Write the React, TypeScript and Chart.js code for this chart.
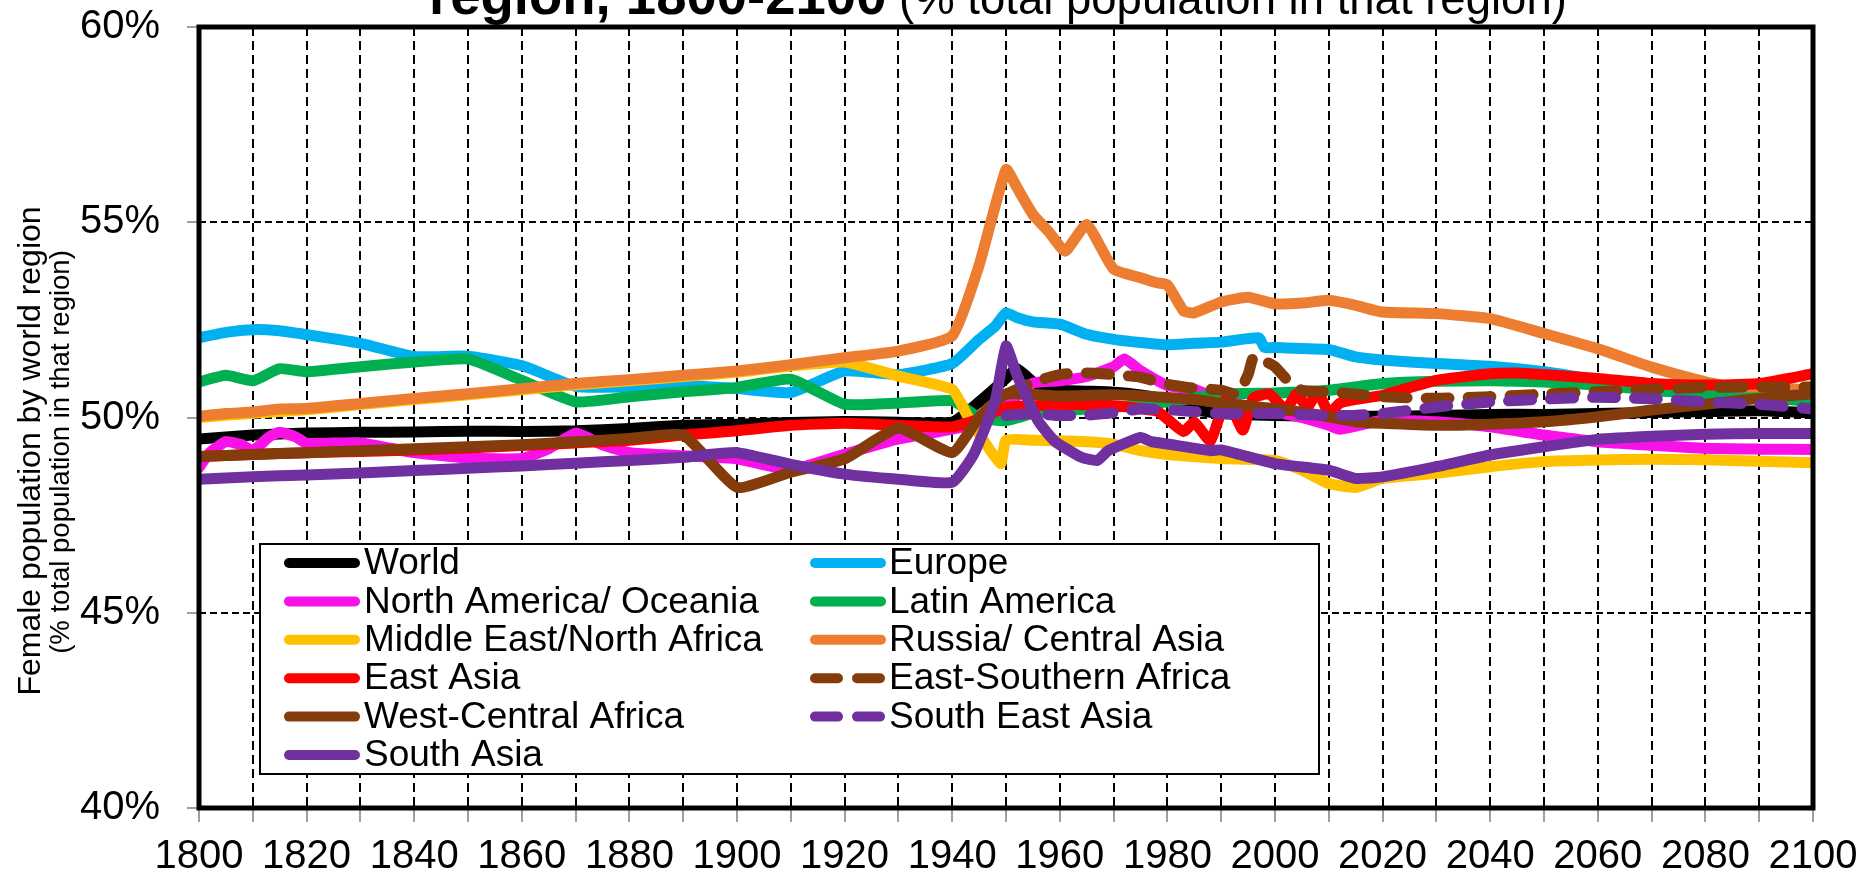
import React, { useEffect, useRef } from "react";
import { Chart, registerables } from "chart.js";

Chart.register(...registerables);

const FONT = "'Liberation Sans', Arial, Helvetica, sans-serif";

// ---------- data (female share of population, %) ----------
const seriesLabels = [
  "World",
  "Europe",
  "North America/ Oceania",
  "Latin America",
  "Middle East/North Africa",
  "Russia/ Central Asia",
  "East Asia",
  "East-Southern Africa",
  "West-Central Africa",
  "South East Asia",
  "South Asia",
];

const worldYears = [1800, 1810, 1820, 1830, 1840, 1850, 1860, 1870, 1880, 1890, 1900, 1910, 1920, 1930, 1940, 1945, 1950, 1952, 1956, 1960, 1970, 1975, 1980, 1985, 1990, 2000, 2010, 2020, 2030, 2040, 2050, 2060, 2070, 2080, 2090, 2100];
const worldValues = [49.45, 49.55, 49.6, 49.62, 49.63, 49.65, 49.64, 49.66, 49.72, 49.8, 49.83, 49.87, 49.9, 49.88, 49.88, 50.4, 51.0, 51.25, 50.8, 50.7, 50.65, 50.58, 50.45, 50.2, 50.1, 50.05, 50.03, 50.03, 50.05, 50.08, 50.08, 50.1, 50.13, 50.15, 50.17, 50.12];

const europeYears = [1800, 1805, 1810, 1815, 1820, 1830, 1840, 1850, 1860, 1870, 1880, 1890, 1900, 1910, 1920, 1930, 1940, 1945, 1948, 1950, 1952, 1955, 1960, 1965, 1970, 1975, 1980, 1985, 1990, 1997, 1998, 2000, 2010, 2015, 2020, 2030, 2040, 2050, 2060, 2070, 2080, 2090, 2100];
const europeValues = [52.04, 52.18, 52.25, 52.22, 52.12, 51.9, 51.56, 51.57, 51.33, 50.8, 50.78, 50.82, 50.74, 50.64, 51.19, 51.1, 51.38, 52.0, 52.34, 52.68, 52.56, 52.45, 52.39, 52.13, 52.0, 51.92, 51.86, 51.9, 51.93, 52.04, 51.8, 51.79, 51.74, 51.55, 51.47, 51.38, 51.31, 51.17, 50.95, 50.7, 50.6, 50.55, 50.5];

const northAmericaYears = [1800, 1802, 1805, 1808, 1810, 1813, 1815, 1818, 1820, 1830, 1840, 1850, 1860, 1865, 1870, 1875, 1880, 1890, 1900, 1910, 1920, 1930, 1940, 1945, 1950, 1955, 1960, 1965, 1970, 1972, 1975, 1980, 1985, 1990, 2000, 2005, 2010, 2012, 2015, 2020, 2030, 2040, 2050, 2060, 2070, 2080, 2090, 2100];
const northAmericaValues = [48.72, 49.1, 49.38, 49.3, 49.15, 49.5, 49.62, 49.5, 49.34, 49.35, 49.1, 48.96, 48.95, 49.2, 49.6, 49.3, 49.1, 49.02, 48.94, 48.66, 49.06, 49.45, 49.7, 49.87, 50.3, 50.88, 50.94, 51.05, 51.3, 51.5, 51.2, 50.82, 50.72, 50.45, 50.15, 50.0, 49.8, 49.7, 49.78, 49.93, 49.89, 49.76, 49.55, 49.38, 49.29, 49.21, 49.19, 49.18];

const latinAmericaYears = [1800, 1805, 1810, 1815, 1820, 1830, 1840, 1850, 1860, 1870, 1880, 1890, 1900, 1910, 1920, 1930, 1940, 1945, 1950, 1955, 1960, 1970, 1980, 1990, 2000, 2010, 2020, 2030, 2040, 2050, 2060, 2070, 2080, 2090, 2100];
const latinAmericaValues = [50.91, 51.08, 50.94, 51.25, 51.17, 51.3, 51.42, 51.5, 50.95, 50.4, 50.53, 50.66, 50.77, 50.98, 50.34, 50.37, 50.43, 50.0, 49.92, 50.1, 50.17, 50.26, 50.4, 50.6, 50.63, 50.7, 50.87, 50.93, 50.94, 50.91, 50.83, 50.7, 50.61, 50.53, 50.4];

const middleEastYears = [1800, 1810, 1820, 1830, 1840, 1850, 1860, 1870, 1880, 1890, 1900, 1910, 1920, 1930, 1940, 1943, 1949, 1950, 1955, 1960, 1965, 1970, 1975, 1980, 1990, 2000, 2005, 2010, 2015, 2020, 2030, 2040, 2050, 2060, 2070, 2080, 2090, 2100];
const middleEastValues = [50.0, 50.11, 50.2, 50.33, 50.46, 50.58, 50.71, 50.84, 50.94, 51.05, 51.16, 51.32, 51.42, 51.06, 50.72, 50.0, 48.82, 49.42, 49.42, 49.4, 49.38, 49.32, 49.15, 49.05, 48.95, 48.9, 48.65, 48.31, 48.21, 48.44, 48.57, 48.74, 48.87, 48.91, 48.93, 48.92, 48.88, 48.84];

const russiaYears = [1800, 1805, 1810, 1815, 1820, 1830, 1840, 1850, 1860, 1870, 1880, 1890, 1900, 1910, 1920, 1930, 1940, 1945, 1950, 1952, 1955, 1958, 1961, 1965, 1970, 1975, 1978, 1980, 1983, 1985, 1990, 1995, 2000, 2005, 2010, 2015, 2020, 2030, 2040, 2050, 2060, 2070, 2080, 2085, 2090, 2100];
const russiaValues = [50.03, 50.1, 50.14, 50.22, 50.23, 50.36, 50.49, 50.61, 50.74, 50.87, 50.97, 51.08, 51.19, 51.35, 51.53, 51.7, 52.09, 53.9, 56.35, 55.9, 55.2, 54.75, 54.26, 54.94, 53.8, 53.58, 53.45, 53.4, 52.73, 52.68, 52.96, 53.08, 52.91, 52.93, 53.0, 52.87, 52.7, 52.66, 52.53, 52.15, 51.76, 51.29, 50.91, 50.78, 50.78, 50.7];

const eastAsiaYears = [1800, 1810, 1820, 1830, 1840, 1850, 1860, 1870, 1880, 1890, 1900, 1910, 1920, 1930, 1940, 1945, 1950, 1955, 1960, 1970, 1978, 1980, 1983, 1985, 1988, 1991, 1994, 1996, 1999, 2002, 2004, 2006, 2008, 2010, 2012, 2014, 2020, 2030, 2040, 2045, 2050, 2060, 2070, 2080, 2090, 2100];
const eastAsiaValues = [49.0, 49.05, 49.1, 49.13, 49.17, 49.22, 49.28, 49.35, 49.42, 49.55, 49.66, 49.8, 49.85, 49.8, 49.76, 49.96, 50.26, 50.3, 50.34, 50.3, 50.17, 49.96, 49.64, 49.88, 49.4, 50.5, 49.68, 50.5, 50.6, 50.2, 50.6, 50.27, 50.66, 50.1, 50.36, 50.44, 50.57, 50.95, 51.12, 51.14, 51.1, 51.0, 50.87, 50.83, 50.87, 51.12];

const eastSouthernAfricaYears = [1950, 1955, 1960, 1965, 1970, 1975, 1980, 1985, 1990, 1993, 1995, 1996, 1998, 2000, 2002, 2005, 2010, 2020, 2030, 2040, 2050, 2060, 2070, 2080, 2090, 2100];
const eastSouthernAfricaValues = [50.6, 50.9, 51.1, 51.14, 51.1, 51.03, 50.85, 50.75, 50.7, 50.6, 51.1, 51.55, 51.45, 51.3, 51.0, 50.7, 50.66, 50.53, 50.49, 50.53, 50.6, 50.66, 50.72, 50.77, 50.78, 50.78];

const westCentralAfricaYears = [1800, 1810, 1820, 1830, 1840, 1850, 1860, 1870, 1880, 1890, 1900, 1910, 1920, 1930, 1940, 1945, 1950, 1960, 1970, 1980, 1987, 1990, 2000, 2010, 2015, 2020, 2030, 2040, 2050, 2060, 2070, 2080, 2090, 2100];
const westCentralAfricaValues = [49.0, 49.05, 49.1, 49.15, 49.2, 49.25, 49.3, 49.38, 49.46, 49.55, 48.21, 48.6, 48.94, 49.73, 49.1, 50.0, 50.6, 50.55, 50.58, 50.51, 50.43, 50.36, 50.23, 50.02, 49.89, 49.85, 49.8, 49.83, 49.89, 50.02, 50.19, 50.34, 50.49, 50.61];

const southEastAsiaYears = [1950, 1955, 1960, 1965, 1970, 1975, 1980, 1985, 1990, 2000, 2010, 2015, 2020, 2030, 2040, 2050, 2060, 2070, 2080, 2090, 2100];
const southEastAsiaValues = [50.05, 50.1, 50.05, 50.06, 50.12, 50.22, 50.2, 50.15, 50.1, 50.1, 50.05, 50.06, 50.1, 50.27, 50.4, 50.47, 50.52, 50.48, 50.4, 50.34, 50.22];

const southAsiaYears = [1800, 1810, 1820, 1830, 1840, 1850, 1860, 1870, 1880, 1890, 1900, 1910, 1920, 1930, 1940, 1944, 1948, 1950, 1952, 1956, 1959, 1964, 1967, 1969, 1975, 1977, 1980, 1988, 1990, 2000, 2010, 2015, 2020, 2030, 2040, 2050, 2060, 2070, 2080, 2090, 2100];
const southAsiaValues = [48.42, 48.48, 48.53, 48.58, 48.64, 48.7, 48.76, 48.83, 48.9, 48.98, 49.1, 48.8, 48.55, 48.42, 48.34, 49.06, 50.43, 51.83, 51.1, 49.91, 49.4, 48.98, 48.9, 49.15, 49.49, 49.38, 49.32, 49.15, 49.17, 48.82, 48.65, 48.44, 48.48, 48.74, 49.04, 49.25, 49.44, 49.52, 49.57, 49.59, 49.59];

const yTickValues = [40, 45, 50, 55, 60];

const titleBold = "region, 1800-2100";
const titleNormal = " (% total population in that region)";
const yTitleMain = "Female population by world region";
const yTitleSub = "(% total population in that region)";

// ---------- styles ----------
const seriesColors = ["#000000", "#00B0F0", "#F812E8", "#00B050", "#FFC000", "#ED7D31", "#FF0000", "#843C0C", "#843C0C", "#7030A0", "#7030A0"];
const dashedSeries = [false, false, false, false, false, false, false, true, false, true, false];

const seriesYears = [worldYears, europeYears, northAmericaYears, latinAmericaYears, middleEastYears, russiaYears, eastAsiaYears, eastSouthernAfricaYears, westCentralAfricaYears, southEastAsiaYears, southAsiaYears];
const seriesValues = [worldValues, europeValues, northAmericaValues, latinAmericaValues, middleEastValues, russiaValues, eastAsiaValues, eastSouthernAfricaValues, westCentralAfricaValues, southEastAsiaValues, southAsiaValues];

const DASH = [23, 19];

const decorPlugin = {
  id: "decor",
  afterDraw(chart: any) {
    const ctx: CanvasRenderingContext2D = chart.ctx;
    const a = chart.chartArea;
    ctx.save();
    // frame
    ctx.lineWidth = 5;
    ctx.strokeStyle = "#000";
    ctx.setLineDash([]);
    ctx.strokeRect(a.left, a.top, a.right - a.left, a.bottom - a.top);

    // legend
    const lx = 260, ly = 544, lw = 1059, lh = 230;
    ctx.fillStyle = "#fff";
    ctx.fillRect(lx, ly, lw, lh);
    ctx.lineWidth = 2;
    ctx.strokeRect(lx, ly, lw, lh);
    const ds = chart.data.datasets;
    ctx.font = `37px ${FONT}`;
    ctx.textBaseline = "middle";
    ctx.textAlign = "left";
    for (let i = 0; i < ds.length; i++) {
      const col = i % 2;
      const row = Math.floor(i / 2);
      const y = 563 + row * 38.4;
      const x0 = col === 0 ? 289 : 815;
      const tx = col === 0 ? 364 : 889;
      ctx.save();
      ctx.strokeStyle = ds[i].borderColor;
      ctx.lineWidth = 10;
      ctx.lineCap = "round";
      ctx.setLineDash(ds[i].borderDash || []);
      ctx.beginPath();
      ctx.moveTo(x0, y);
      ctx.lineTo(x0 + 66, y);
      ctx.stroke();
      ctx.restore();
      ctx.fillStyle = "#000";
      ctx.fillText(ds[i].label, tx, y + 1);
    }

    // title (lower line; the upper line lies outside the picture)
    ctx.textBaseline = "alphabetic";
    ctx.textAlign = "left";
    ctx.fillStyle = "#000";
    ctx.font = `bold 54.5px ${FONT}`;
    ctx.fillText(titleBold, 429, 14);
    const w = ctx.measureText(titleBold).width;
    ctx.font = `45.5px ${FONT}`;
    ctx.fillText(titleNormal, 429 + w, 14);

    // y axis title
    ctx.textAlign = "center";
    ctx.textBaseline = "middle";
    ctx.save();
    ctx.translate(31, 451);
    ctx.rotate(-Math.PI / 2);
    ctx.font = `32px ${FONT}`;
    ctx.fillText(yTitleMain, 0, 0);
    ctx.restore();
    ctx.save();
    ctx.translate(61, 452);
    ctx.rotate(-Math.PI / 2);
    ctx.font = `27.5px ${FONT}`;
    ctx.fillText(yTitleSub, 0, 0);
    ctx.restore();
    ctx.restore();
  },
};

export default function App() {
  const ref = useRef<HTMLCanvasElement>(null);
  useEffect(() => {
    const canvas = ref.current;
    if (!canvas) return;
    const n = seriesLabels.length;
    const datasets = seriesLabels.map((label, i) => ({
      label,
      data: seriesYears[i].map((x, j) => ({ x, y: seriesValues[i][j] })),
      borderColor: seriesColors[i],
      backgroundColor: seriesColors[i],
      borderWidth: 11,
      borderDash: dashedSeries[i] ? DASH : [],
      borderCapStyle: "round" as const,
      borderJoinStyle: "round" as const,
      pointRadius: 0,
      pointHoverRadius: 0,
      tension: 0.15,
      fill: false,
      order: n - i,
    }));
    const chart = new Chart(canvas, {
      type: "line",
      data: { datasets },
      plugins: [decorPlugin],
      options: {
        animation: false,
        responsive: false,
        events: [],
        layout: { padding: { top: 27, right: 63, bottom: 0, left: 0 } },
        plugins: { legend: { display: false }, tooltip: { enabled: false }, title: { display: false } },
        scales: {
          x: {
            type: "linear",
            min: 1800,
            max: 2100,
            afterFit: (s: any) => { s.height = 72; },
            ticks: {
              stepSize: 10,
              autoSkip: false,
              maxRotation: 0,
              minRotation: 0,
              color: "#000",
              padding: 11,
              font: { size: 40, family: FONT },
              callback: (v: any) => (Number(v) % 20 === 0 ? String(v) : ""),
            },
            grid: { color: "#000", lineWidth: 2, tickLength: 14, tickColor: "#7f7f7f", tickWidth: 1.5, tickBorderDash: [] },
            border: { display: false, dash: [9, 5] },
          },
          y: {
            type: "linear",
            min: yTickValues[0],
            max: yTickValues[yTickValues.length - 1],
            afterFit: (s: any) => { s.width = 199; s.paddingTop = 0; s.paddingBottom = 0; },
            ticks: {
              stepSize: 5,
              color: "#000",
              padding: 27,
              font: { size: 40, family: FONT },
              callback: (v: any) => `${v}%`,
            },
            grid: { color: "#000", lineWidth: 2, tickLength: 12, tickColor: "#7f7f7f", tickWidth: 1.5, tickBorderDash: [] },
            border: { display: false, dash: [7, 4] },
          },
        },
      },
    });
    return () => chart.destroy();
  }, []);
  return (
    <div style={{ position: "fixed", left: 0, top: 0, width: 1876, height: 880, background: "#fff" }}>
      <canvas ref={ref} width={1876} height={880} style={{ display: "block" }} />
    </div>
  );
}
